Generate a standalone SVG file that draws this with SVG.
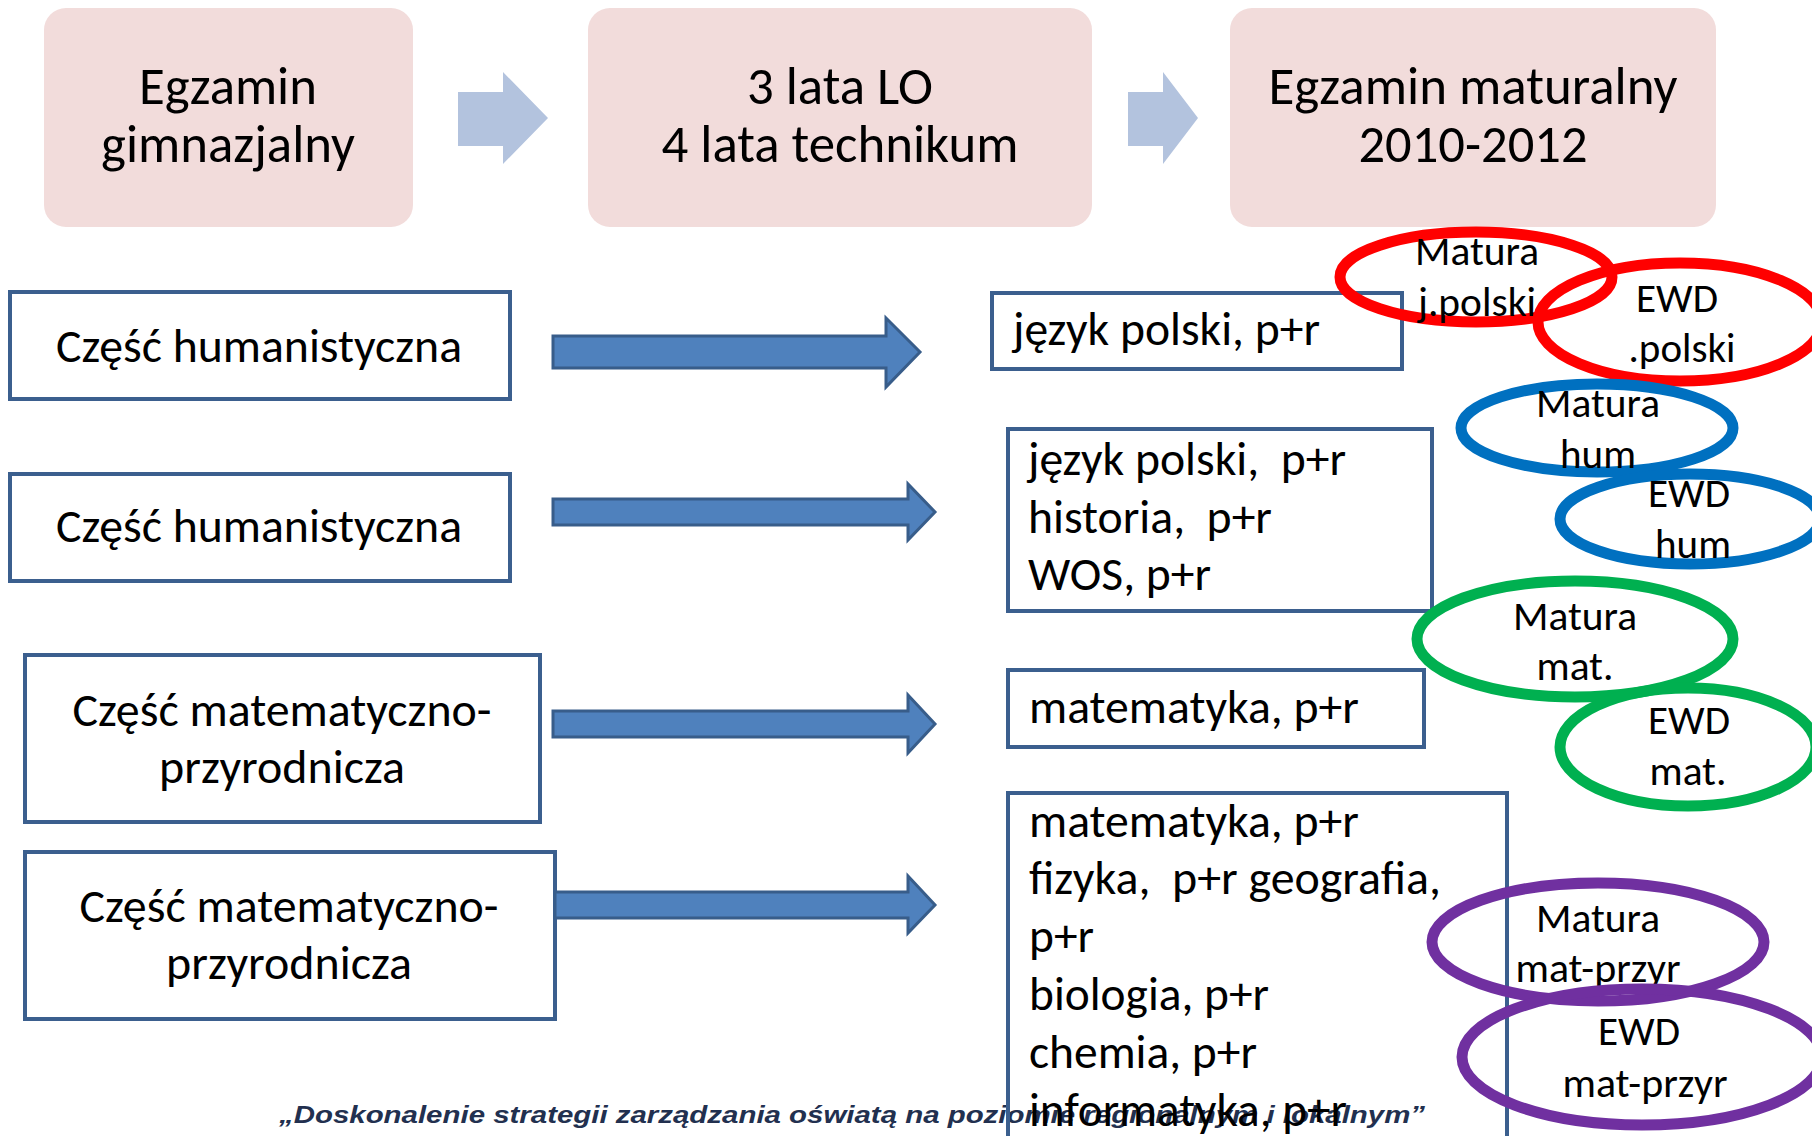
<svg xmlns="http://www.w3.org/2000/svg" width="1812" height="1136" viewBox="0 0 1812 1136">
<style>
  .t { font-family: Carlito, Lato, "Open Sans", "Liberation Sans", sans-serif; fill: #000; white-space: pre; }
  .top { font-size: 52.5px; text-anchor: middle; }
  .mid { font-size: 47.5px; }
  .midc { font-size: 47.5px; text-anchor: middle; }
  .ell { font-size: 41px; text-anchor: middle; }
  .pink { fill: #F2DCDB; }
  .box { fill: #FFFFFF; stroke: #3B5F8E; stroke-width: 4; }
  .boxn { fill: none; stroke: #3B5F8E; stroke-width: 4; }
  .big { fill: #4F81BD; stroke: #385D8A; stroke-width: 3; }
  .light { fill: #B3C3DE; }
  .e { fill: none; stroke-width: 11; }
  .footer { font-family: "Liberation Sans", Arial, sans-serif; font-weight: bold; font-style: italic; font-size: 24px; fill: #22304F; }
</style>

<rect width="1812" height="1136" fill="#FFFFFF"/>

<!-- Top process boxes -->
<g id="egzamin-gimnazjalny">
  <rect class="pink" x="44" y="8" width="369" height="219" rx="22" ry="22"/>
  <text class="t top" x="228" y="104" textLength="178" lengthAdjust="spacingAndGlyphs">Egzamin</text>
  <text class="t top" x="228" y="162" textLength="254" lengthAdjust="spacingAndGlyphs">gimnazjalny</text>
</g>
<g id="lata-lo">
  <rect class="pink" x="588" y="8" width="504" height="219" rx="22" ry="22"/>
  <text class="t top" x="840" y="104" textLength="186" lengthAdjust="spacingAndGlyphs">3 lata LO</text>
  <text class="t top" x="840" y="162" textLength="357" lengthAdjust="spacingAndGlyphs">4 lata technikum</text>
</g>
<g id="egzamin-maturalny">
  <rect class="pink" x="1230" y="8" width="486" height="219" rx="22" ry="22"/>
  <text class="t top" x="1473" y="104" textLength="409" lengthAdjust="spacingAndGlyphs">Egzamin maturalny</text>
  <text class="t top" x="1473" y="162" textLength="229" lengthAdjust="spacingAndGlyphs">2010-2012</text>
</g>

<!-- Left boxes -->
<g id="czesc-hum-1">
  <rect class="box" x="10" y="292" width="500" height="107"/>
  <text class="t midc" x="259" y="362" textLength="406" lengthAdjust="spacingAndGlyphs">Część humanistyczna</text>
</g>
<g id="czesc-hum-2">
  <rect class="box" x="10" y="474" width="500" height="107"/>
  <text class="t midc" x="259" y="542" textLength="406" lengthAdjust="spacingAndGlyphs">Część humanistyczna</text>
</g>
<g id="czesc-mat-1">
  <rect class="box" x="25" y="655" width="515" height="167"/>
  <text class="t midc" x="282" y="726" textLength="419" lengthAdjust="spacingAndGlyphs">Część matematyczno-</text>
  <text class="t midc" x="282" y="783" textLength="246" lengthAdjust="spacingAndGlyphs">przyrodnicza</text>
</g>
<g id="czesc-mat-2">
  <rect class="box" x="25" y="852" width="530" height="167"/>
  <text class="t midc" x="289" y="922" textLength="419" lengthAdjust="spacingAndGlyphs">Część matematyczno-</text>
  <text class="t midc" x="289" y="979" textLength="246" lengthAdjust="spacingAndGlyphs">przyrodnicza</text>
</g>

<!-- Connectors -->
<g id="connectors">
  <path class="light" d="M458,92 H503 V72 L548,118 L503,164 V146 H458 Z"/>
  <path class="light" d="M1128,92 H1163 V72 L1198,118 L1163,164 V146 H1128 Z"/>
  <path class="big" d="M553,336 H886 V318 L920,352 L886,387 V368 H553 Z"/>
  <path class="big" d="M553,499 H908 V484 L935,512 L908,540 V525 H553 Z"/>
  <path class="big" d="M553,711 H908 V695 L935,724 L908,753 V737 H553 Z"/>
  <path class="big" d="M555,892 H908 V876 L935,905 L908,933 V918 H555 Z"/>
</g>

<!-- Footer -->
<g id="footer">
  <text class="footer" x="279" y="1123" textLength="1146" lengthAdjust="spacingAndGlyphs">„Doskonalenie strategii zarządzania oświatą na poziomie regionalnym i lokalnym”</text>
</g>

<!-- Right boxes -->
<g id="jp">
  <rect class="boxn" x="992" y="293" width="410" height="76"/>
  <text class="t mid" x="1013" y="345" textLength="307" lengthAdjust="spacingAndGlyphs">język polski, p+r</text>
</g>
<g id="jp-hist-wos">
  <rect class="boxn" x="1008" y="429" width="424" height="182"/>
  <text class="t mid" x="1028" y="475" textLength="318" lengthAdjust="spacingAndGlyphs" xml:space="preserve">język polski,  p+r</text>
  <text class="t mid" x="1028" y="533" textLength="244" lengthAdjust="spacingAndGlyphs" xml:space="preserve">historia,  p+r</text>
  <text class="t mid" x="1028" y="590" textLength="183" lengthAdjust="spacingAndGlyphs">WOS, p+r</text>
</g>
<g id="mat">
  <rect class="boxn" x="1008" y="670" width="416" height="77"/>
  <text class="t mid" x="1029" y="723" textLength="330" lengthAdjust="spacingAndGlyphs">matematyka, p+r</text>
</g>
<g id="mat-przyr">
  <rect class="boxn" x="1008" y="793" width="499" height="360"/>
  <text class="t mid" x="1029" y="837" textLength="330" lengthAdjust="spacingAndGlyphs">matematyka, p+r</text>
  <text class="t mid" x="1029" y="894" textLength="412" lengthAdjust="spacingAndGlyphs" xml:space="preserve">fizyka,  p+r geografia,</text>
  <text class="t mid" x="1029" y="952" textLength="65" lengthAdjust="spacingAndGlyphs">p+r</text>
  <text class="t mid" x="1029" y="1010" textLength="240" lengthAdjust="spacingAndGlyphs">biologia, p+r</text>
  <text class="t mid" x="1029" y="1068" textLength="228" lengthAdjust="spacingAndGlyphs">chemia, p+r</text>
  <text class="t mid" x="1029" y="1126" textLength="318" lengthAdjust="spacingAndGlyphs">informatyka, p+r</text>
</g>

<!-- Ellipses -->
<g id="matura-jpolski">
  <ellipse class="e" cx="1476" cy="277" rx="136" ry="45" stroke="#FF0000"/>
  <text class="t ell" x="1477" y="265" textLength="124" lengthAdjust="spacingAndGlyphs">Matura</text>
  <text class="t ell" x="1477" y="316" textLength="118" lengthAdjust="spacingAndGlyphs">j.polski</text>
</g>
<g id="ewd-polski">
  <ellipse class="e" cx="1680" cy="322" rx="142" ry="59" stroke="#FF0000"/>
  <text class="t ell" x="1677" y="312" textLength="82" lengthAdjust="spacingAndGlyphs">EWD</text>
  <text class="t ell" x="1682" y="362" textLength="107" lengthAdjust="spacingAndGlyphs">.polski</text>
</g>
<g id="matura-hum">
  <ellipse class="e" cx="1597" cy="428" rx="136" ry="44" stroke="#0070C0"/>
  <text class="t ell" x="1598" y="417" textLength="124" lengthAdjust="spacingAndGlyphs">Matura</text>
  <text class="t ell" x="1598" y="468" textLength="76" lengthAdjust="spacingAndGlyphs">hum</text>
</g>
<g id="ewd-hum">
  <ellipse class="e" cx="1690" cy="519" rx="130" ry="45" stroke="#0070C0"/>
  <text class="t ell" x="1689" y="507" textLength="82" lengthAdjust="spacingAndGlyphs">EWD</text>
  <text class="t ell" x="1693" y="558" textLength="76" lengthAdjust="spacingAndGlyphs">hum</text>
</g>
<g id="matura-mat">
  <ellipse class="e" cx="1575" cy="639" rx="158" ry="58" stroke="#00B050"/>
  <text class="t ell" x="1575" y="630" textLength="124" lengthAdjust="spacingAndGlyphs">Matura</text>
  <text class="t ell" x="1575" y="680" textLength="77" lengthAdjust="spacingAndGlyphs">mat.</text>
</g>
<g id="ewd-mat">
  <ellipse class="e" cx="1688" cy="747" rx="128" ry="59" stroke="#00B050"/>
  <text class="t ell" x="1689" y="734" textLength="82" lengthAdjust="spacingAndGlyphs">EWD</text>
  <text class="t ell" x="1688" y="785" textLength="77" lengthAdjust="spacingAndGlyphs">mat.</text>
</g>
<g id="matura-mat-przyr">
  <ellipse class="e" cx="1598" cy="942" rx="166" ry="59" stroke="#7030A0"/>
  <text class="t ell" x="1598" y="932" textLength="124" lengthAdjust="spacingAndGlyphs">Matura</text>
  <text class="t ell" x="1598" y="982" textLength="165" lengthAdjust="spacingAndGlyphs">mat-przyr</text>
</g>
<g id="ewd-mat-przyr">
  <ellipse class="e" cx="1642" cy="1057" rx="180" ry="68" stroke="#7030A0"/>
  <text class="t ell" x="1639" y="1045" textLength="82" lengthAdjust="spacingAndGlyphs">EWD</text>
  <text class="t ell" x="1645" y="1097" textLength="165" lengthAdjust="spacingAndGlyphs">mat-przyr</text>
</g>
</svg>
